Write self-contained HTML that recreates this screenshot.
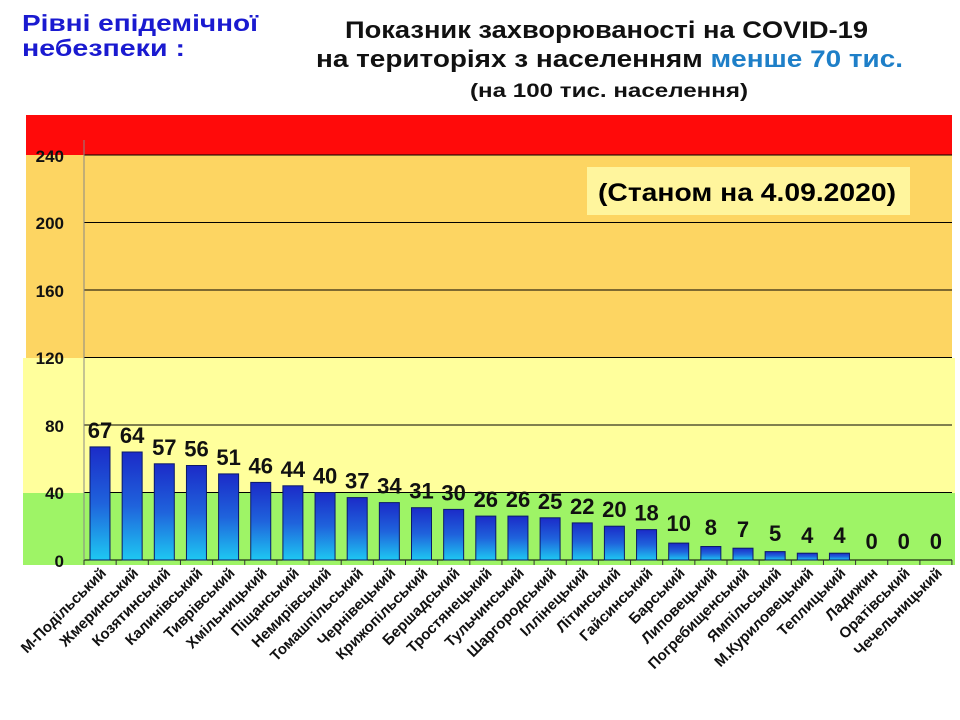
<!DOCTYPE html>
<html><head><meta charset="utf-8"><style>
body{margin:0;background:#fff}
svg{display:block}
text{font-family:"Liberation Sans","DejaVu Sans",sans-serif;font-weight:bold}
.v{font-size:22px;text-anchor:middle;font-family:"Liberation Sans Narrow","Liberation Sans",sans-serif}
.l{font-size:15px;text-anchor:end}
</style></head><body>
<svg width="960" height="720" xmlns="http://www.w3.org/2000/svg">
<defs>
<linearGradient id="g" x1="0" y1="0" x2="0" y2="1">
<stop offset="0" stop-color="#1b2bc8"/><stop offset="0.5" stop-color="#1f63dc"/><stop offset="1" stop-color="#1ec8f2"/>
</linearGradient>
</defs>
<rect x="26" y="115" width="926" height="40" fill="#ff0a0a"/>
<rect x="26" y="155" width="926" height="203" fill="#fdd562"/>
<rect x="23" y="358" width="932" height="135" fill="#ffff9c"/>
<rect x="23" y="493" width="932" height="72" fill="#9ef466"/>
<rect x="587" y="167" width="323" height="48" fill="#fff59d"/>
<text x="598" y="201" font-size="25" textLength="298" lengthAdjust="spacingAndGlyphs">(Станом на 4.09.2020)</text>
<g stroke="#000" stroke-width="1">
<line x1="84" y1="155" x2="952" y2="155"/>
<line x1="84" y1="222.5" x2="952" y2="222.5"/>
<line x1="84" y1="290" x2="952" y2="290"/>
<line x1="84" y1="357.5" x2="952" y2="357.5"/>
<line x1="84" y1="425" x2="952" y2="425"/>
<line x1="84" y1="492.5" x2="952" y2="492.5"/>
<line x1="84" y1="560" x2="952" y2="560"/>
</g>
<line x1="84" y1="140" x2="84" y2="560" stroke="#888" stroke-width="1"/>
<g font-size="17" text-anchor="end" fill="#111">
<text x="64" y="162">240</text><text x="64" y="229">200</text><text x="64" y="297">160</text>
<text x="64" y="364">120</text><text x="64" y="432">80</text><text x="64" y="499">40</text><text x="64" y="567">0</text>
</g>
<g fill="#111">
<g transform="translate(100,0)"><rect x="-10" y="446.9" width="20" height="113.1" fill="url(#g)" stroke="#0c1a6a"/><text y="437.9" class="v">67</text><line x1="-16" y1="560" x2="-16" y2="565" stroke="#333"/><text transform="translate(7,574) rotate(-45)" class="l">М-Подільський</text></g>
<g transform="translate(132.15,0)"><rect x="-10" y="452" width="20" height="108" fill="url(#g)" stroke="#0c1a6a"/><text y="443" class="v">64</text><line x1="-16" y1="560" x2="-16" y2="565" stroke="#333"/><text transform="translate(7,574) rotate(-45)" class="l">Жмеринський</text></g>
<g transform="translate(164.3,0)"><rect x="-10" y="463.8" width="20" height="96.2" fill="url(#g)" stroke="#0c1a6a"/><text y="454.8" class="v">57</text><line x1="-16" y1="560" x2="-16" y2="565" stroke="#333"/><text transform="translate(7,574) rotate(-45)" class="l">Козятинський</text></g>
<g transform="translate(196.45,0)"><rect x="-10" y="465.5" width="20" height="94.5" fill="url(#g)" stroke="#0c1a6a"/><text y="456.5" class="v">56</text><line x1="-16" y1="560" x2="-16" y2="565" stroke="#333"/><text transform="translate(7,574) rotate(-45)" class="l">Калинівський</text></g>
<g transform="translate(228.6,0)"><rect x="-10" y="473.9" width="20" height="86.1" fill="url(#g)" stroke="#0c1a6a"/><text y="464.9" class="v">51</text><line x1="-16" y1="560" x2="-16" y2="565" stroke="#333"/><text transform="translate(7,574) rotate(-45)" class="l">Тиврівський</text></g>
<g transform="translate(260.75,0)"><rect x="-10" y="482.4" width="20" height="77.6" fill="url(#g)" stroke="#0c1a6a"/><text y="473.4" class="v">46</text><line x1="-16" y1="560" x2="-16" y2="565" stroke="#333"/><text transform="translate(7,574) rotate(-45)" class="l">Хмільницький</text></g>
<g transform="translate(292.9,0)"><rect x="-10" y="485.8" width="20" height="74.2" fill="url(#g)" stroke="#0c1a6a"/><text y="476.8" class="v">44</text><line x1="-16" y1="560" x2="-16" y2="565" stroke="#333"/><text transform="translate(7,574) rotate(-45)" class="l">Піщанський</text></g>
<g transform="translate(325.05,0)"><rect x="-10" y="492.5" width="20" height="67.5" fill="url(#g)" stroke="#0c1a6a"/><text y="483.5" class="v">40</text><line x1="-16" y1="560" x2="-16" y2="565" stroke="#333"/><text transform="translate(7,574) rotate(-45)" class="l">Немирівський</text></g>
<g transform="translate(357.2,0)"><rect x="-10" y="497.6" width="20" height="62.4" fill="url(#g)" stroke="#0c1a6a"/><text y="488.6" class="v">37</text><line x1="-16" y1="560" x2="-16" y2="565" stroke="#333"/><text transform="translate(7,574) rotate(-45)" class="l">Томашпільський</text></g>
<g transform="translate(389.35,0)"><rect x="-10" y="502.6" width="20" height="57.4" fill="url(#g)" stroke="#0c1a6a"/><text y="493.6" class="v">34</text><line x1="-16" y1="560" x2="-16" y2="565" stroke="#333"/><text transform="translate(7,574) rotate(-45)" class="l">Чернівецький</text></g>
<g transform="translate(421.5,0)"><rect x="-10" y="507.7" width="20" height="52.3" fill="url(#g)" stroke="#0c1a6a"/><text y="498.7" class="v">31</text><line x1="-16" y1="560" x2="-16" y2="565" stroke="#333"/><text transform="translate(7,574) rotate(-45)" class="l">Крижопільський</text></g>
<g transform="translate(453.65,0)"><rect x="-10" y="509.4" width="20" height="50.6" fill="url(#g)" stroke="#0c1a6a"/><text y="500.4" class="v">30</text><line x1="-16" y1="560" x2="-16" y2="565" stroke="#333"/><text transform="translate(7,574) rotate(-45)" class="l">Бершадський</text></g>
<g transform="translate(485.8,0)"><rect x="-10" y="516.1" width="20" height="43.9" fill="url(#g)" stroke="#0c1a6a"/><text y="507.1" class="v">26</text><line x1="-16" y1="560" x2="-16" y2="565" stroke="#333"/><text transform="translate(7,574) rotate(-45)" class="l">Тростянецький</text></g>
<g transform="translate(517.95,0)"><rect x="-10" y="516.1" width="20" height="43.9" fill="url(#g)" stroke="#0c1a6a"/><text y="507.1" class="v">26</text><line x1="-16" y1="560" x2="-16" y2="565" stroke="#333"/><text transform="translate(7,574) rotate(-45)" class="l">Тульчинський</text></g>
<g transform="translate(550.1,0)"><rect x="-10" y="517.8" width="20" height="42.2" fill="url(#g)" stroke="#0c1a6a"/><text y="508.8" class="v">25</text><line x1="-16" y1="560" x2="-16" y2="565" stroke="#333"/><text transform="translate(7,574) rotate(-45)" class="l">Шаргородський</text></g>
<g transform="translate(582.25,0)"><rect x="-10" y="522.9" width="20" height="37.1" fill="url(#g)" stroke="#0c1a6a"/><text y="513.9" class="v">22</text><line x1="-16" y1="560" x2="-16" y2="565" stroke="#333"/><text transform="translate(7,574) rotate(-45)" class="l">Іллінецький</text></g>
<g transform="translate(614.4,0)"><rect x="-10" y="526.2" width="20" height="33.8" fill="url(#g)" stroke="#0c1a6a"/><text y="517.2" class="v">20</text><line x1="-16" y1="560" x2="-16" y2="565" stroke="#333"/><text transform="translate(7,574) rotate(-45)" class="l">Літинський</text></g>
<g transform="translate(646.55,0)"><rect x="-10" y="529.6" width="20" height="30.4" fill="url(#g)" stroke="#0c1a6a"/><text y="520.6" class="v">18</text><line x1="-16" y1="560" x2="-16" y2="565" stroke="#333"/><text transform="translate(7,574) rotate(-45)" class="l">Гайсинський</text></g>
<g transform="translate(678.7,0)"><rect x="-10" y="543.1" width="20" height="16.9" fill="url(#g)" stroke="#0c1a6a"/><text y="531" class="v">10</text><line x1="-16" y1="560" x2="-16" y2="565" stroke="#333"/><text transform="translate(7,574) rotate(-45)" class="l">Барський</text></g>
<g transform="translate(710.85,0)"><rect x="-10" y="546.5" width="20" height="13.5" fill="url(#g)" stroke="#0c1a6a"/><text y="535" class="v">8</text><line x1="-16" y1="560" x2="-16" y2="565" stroke="#333"/><text transform="translate(7,574) rotate(-45)" class="l">Липовецький</text></g>
<g transform="translate(743,0)"><rect x="-10" y="548.2" width="20" height="11.8" fill="url(#g)" stroke="#0c1a6a"/><text y="537" class="v">7</text><line x1="-16" y1="560" x2="-16" y2="565" stroke="#333"/><text transform="translate(7,574) rotate(-45)" class="l">Погребищенський</text></g>
<g transform="translate(775.15,0)"><rect x="-10" y="551.6" width="20" height="8.4" fill="url(#g)" stroke="#0c1a6a"/><text y="541" class="v">5</text><line x1="-16" y1="560" x2="-16" y2="565" stroke="#333"/><text transform="translate(7,574) rotate(-45)" class="l">Ямпільський</text></g>
<g transform="translate(807.3,0)"><rect x="-10" y="553.2" width="20" height="6.8" fill="url(#g)" stroke="#0c1a6a"/><text y="543" class="v">4</text><line x1="-16" y1="560" x2="-16" y2="565" stroke="#333"/><text transform="translate(7,574) rotate(-45)" class="l">М.Куриловецький</text></g>
<g transform="translate(839.45,0)"><rect x="-10" y="553.2" width="20" height="6.8" fill="url(#g)" stroke="#0c1a6a"/><text y="543" class="v">4</text><line x1="-16" y1="560" x2="-16" y2="565" stroke="#333"/><text transform="translate(7,574) rotate(-45)" class="l">Теплицький</text></g>
<g transform="translate(871.6,0)"><text y="549" class="v">0</text><line x1="-16" y1="560" x2="-16" y2="565" stroke="#333"/><text transform="translate(7,574) rotate(-45)" class="l">Ладижин</text></g>
<g transform="translate(903.75,0)"><text y="549" class="v">0</text><line x1="-16" y1="560" x2="-16" y2="565" stroke="#333"/><text transform="translate(7,574) rotate(-45)" class="l">Оратівський</text></g>
<g transform="translate(935.9,0)"><text y="549" class="v">0</text><line x1="-16" y1="560" x2="-16" y2="565" stroke="#333"/><line x1="16" y1="560" x2="16" y2="565" stroke="#333"/><text transform="translate(7,574) rotate(-45)" class="l">Чечельницький</text></g>
</g>
<text x="22" y="31" font-size="23" fill="#1a1ad0" textLength="236" lengthAdjust="spacingAndGlyphs">Рівні епідемічної</text>
<text x="22" y="56" font-size="23" fill="#1a1ad0" textLength="163" lengthAdjust="spacingAndGlyphs">небезпеки :</text>
<text x="345" y="38" font-size="24" fill="#111" textLength="523" lengthAdjust="spacingAndGlyphs">Показник захворюваності на COVID-19</text>
<text x="316" y="67" font-size="24" fill="#111" textLength="587" lengthAdjust="spacingAndGlyphs">на територіях з населенням <tspan fill="#1e7fc8">менше 70 тис.</tspan></text>
<text x="470" y="97" font-size="19" fill="#111" textLength="278" lengthAdjust="spacingAndGlyphs">(на 100 тис. населення)</text>
</svg>
</body></html>
